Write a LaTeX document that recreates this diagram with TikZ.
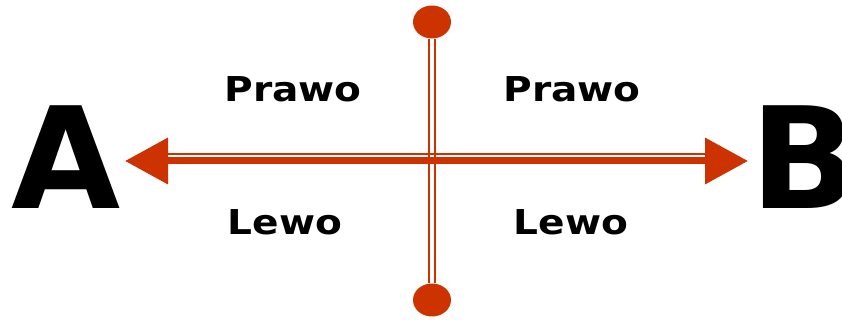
\documentclass[tikz,border=0pt]{standalone}
\usepackage{fontspec}
\setmainfont{DejaVu Sans}
\newfontfamily\labfont{DejaVu Sans}[FakeStretch=1.14]
\usetikzlibrary{arrows.meta,shapes.geometric}
\definecolor{rust}{RGB}{204,51,0}
\tikzset{
  letter/.style={inner sep=0, font=\fontsize{105.75pt}{110pt}\selectfont\bfseries},
  side/.style={inner sep=0, anchor=base, font=\fontsize{25.7pt}{28pt}\labfont\bfseries},
  dot/.style={ellipse, fill=rust, inner sep=0, minimum width=28.5pt, minimum height=24.75pt},
}
\begin{document}
\begin{tikzpicture}[x=0.75pt, y=-0.75pt]
  \useasboundingbox (0,0) rectangle (842,320);
  \node[letter, anchor=base] (a) at (66,209) {A};
  \node[letter, anchor=base west] (b) at (750,209) {B};
  \node[side] (pl) at (293,102) {Prawo};
  \node[side] (pr) at (572,102) {Prawo};
  \node[side] (ll) at (285,235) {Lewo};
  \node[side] (lr) at (571,235) {Lewo};
  \node[dot] (top) at (432,22) {};
  \node[dot] (bot) at (432,300) {};
  \coordinate (tipl) at (125,161);
  \coordinate (tipr) at (748,161);
  \coordinate (thinl) at (165,154);
  \coordinate (thinr) at (708,154);
  \draw[rust, line width=1.5pt, double=white, double distance=3.4pt] (top.south) -- (bot.north);
  \draw[rust, line width=1.2pt] (thinl) -- (thinr);
  \draw[rust, line width=5.25pt, {Triangle[length=32.25pt, width=33.75pt]}-{Triangle[length=32.25pt, width=33.75pt]}] (tipl) -- (tipr);
\end{tikzpicture}
\end{document}
